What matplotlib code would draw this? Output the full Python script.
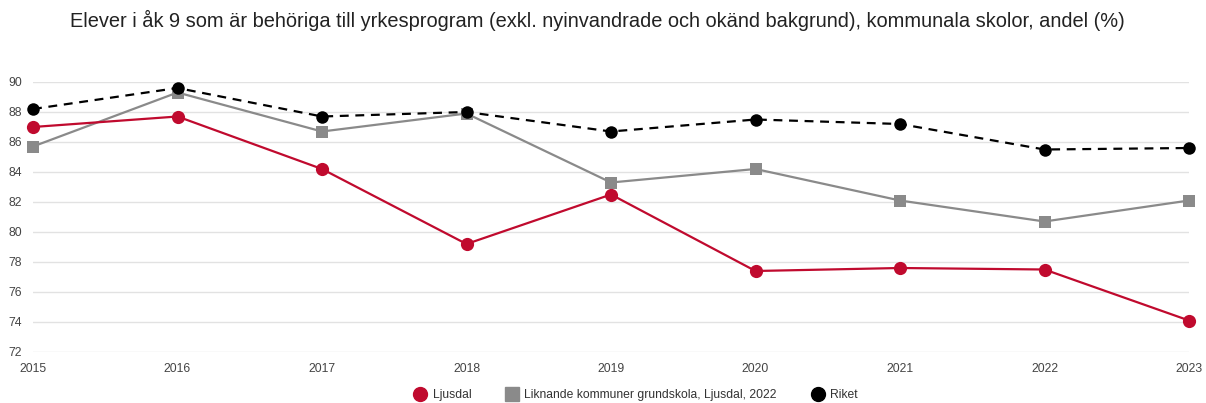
import matplotlib.pyplot as plt
from matplotlib.lines import Line2D

years = [2015, 2016, 2017, 2018, 2019, 2020, 2021, 2022, 2023]
ljusdal = [87.0, 87.7, 84.2, 79.2, 82.5, 77.4, 77.6, 77.5, 74.1]
liknande = [85.7, 89.3, 86.7, 87.9, 83.3, 84.2, 82.1, 80.7, 82.1]
riket = [88.2, 89.6, 87.7, 88.0, 86.7, 87.5, 87.2, 85.5, 85.6]
yticks = [72, 74, 76, 78, 80, 82, 84, 86, 88, 90]

title = "Elever i åk 9 som är behöriga till yrkesprogram (exkl. nyinvandrade och okänd bakgrund), kommunala skolor, andel (%)"
labels = ["Ljusdal", "Liknande kommuner grundskola, Ljusdal, 2022", "Riket"]

red = '#c00a2e'
gray = '#8a8a8a'

plt.rcParams['font.family'] = ['Liberation Sans', 'DejaVu Sans']

fig = plt.figure(figsize=(12.06, 4.03), dpi=100)
ax = fig.add_axes([33/1206, 1 - 352/403, (1189-33)/1206, (352-82)/403])

# grid lines
for t in yticks:
    ax.axhline(t, color='#e2e2e2', linewidth=1, zorder=0)

ax.plot(years, liknande, color=gray, linewidth=1.6, marker='s', markersize=8.5,
        markeredgewidth=0, zorder=3, clip_on=False)
ax.plot(years, ljusdal, color=red, linewidth=1.6, marker='o', markersize=9.5,
        markeredgewidth=0, zorder=4, clip_on=False)
ax.plot(years, riket, color='black', linewidth=1.6, linestyle=(0, (4, 3)),
        marker='o', markersize=9, markeredgewidth=0, zorder=5, clip_on=False)

ax.set_xlim(2015, 2023)
ax.set_ylim(72, 90)
ax.set_yticks(yticks)
ax.set_xticks(years)
ax.tick_params(axis='both', length=0, labelsize=8.8, colors='#444444')
ax.tick_params(axis='y', pad=8)
ax.tick_params(axis='x', pad=8)
for s in ax.spines.values():
    s.set_visible(False)

fig.text(597/1206, 1 - 20/403, title, ha='center', va='center', fontsize=14.4,
         color='#222222')

handles = [
    Line2D([], [], color=red, marker='o', linestyle='none', markersize=10),
    Line2D([], [], color=gray, marker='s', linestyle='none', markersize=10),
    Line2D([], [], color='black', marker='o', linestyle='none', markersize=10),
]
fig.legend(handles, labels, loc='center', bbox_to_anchor=(636/1206, 1 - 395/403),
           ncol=3, frameon=False, fontsize=8.7, handletextpad=0.5,
           columnspacing=2.9, handlelength=1.0, labelcolor='#333333')

fig.savefig('out.png', dpi=100)
